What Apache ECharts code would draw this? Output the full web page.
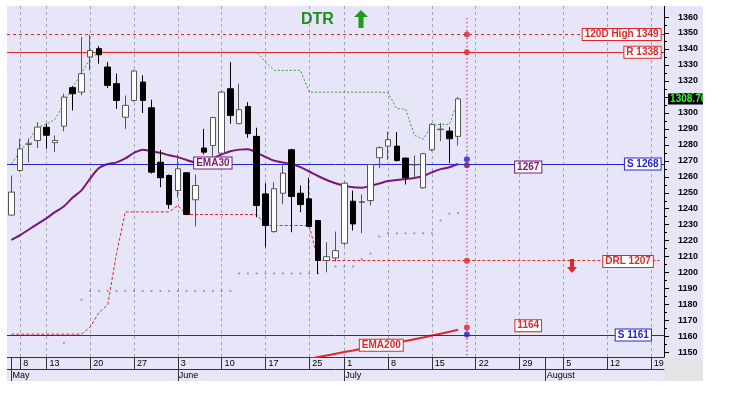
<!DOCTYPE html>
<html>
<head>
<meta charset="utf-8">
<title>DTR</title>
<script src="https://cdn.jsdelivr.net/npm/echarts@6.0.0/dist/echarts.min.js"></script>
<style>
    body { margin: 0; background: #fff; }
    #main { position: absolute; left: 7px; top: 6px; width: 696px; height: 375px; background: #e6e6f8; }
</style>
</head>
<body>
<div id="main"></div>
<script type="text/javascript">
    // trading days on the axis
    var mayDays = [7, 8, 9, 10, 13, 14, 15, 16, 17, 20, 21, 22, 23, 24, 27, 28, 29, 30, 31];
    var junDays = [3, 4, 5, 6, 7, 10, 11, 12, 13, 14, 17, 18, 19, 20, 21, 25, 26, 27, 28];
    var julDays = [1, 2, 3, 4, 5, 8, 9, 10, 11, 12, 15, 16, 17, 18, 19, 22, 23, 24, 25, 26, 29, 30, 31];
    var augDays = [1, 2, 5, 6, 7, 8, 9, 12, 13, 14, 15, 16, 19, 20];

    var weekStarts = ['May 8', 'May 13', 'May 20', 'May 27', 'Jun 3', 'Jun 10', 'Jun 17', 'Jun 25',
        'Jul 1', 'Jul 8', 'Jul 15', 'Jul 22', 'Jul 29', 'Aug 5', 'Aug 12', 'Aug 19'];
    var monthStarts = ['May 7', 'Jun 3', 'Jul 1', 'Aug 1'];
    var monthLabels = ['May', 'June', 'July', 'August'];

    var yTicks = [1150, 1160, 1170, 1180, 1190, 1200, 1210, 1220, 1230, 1240, 1250,
        1260, 1270, 1280, 1290, 1300, 1310, 1320, 1330, 1340, 1350, 1360];
    var yMinor = [1155, 1165, 1175, 1185, 1195, 1205, 1215, 1225, 1235, 1245, 1255,
        1265, 1275, 1285, 1295, 1305, 1315, 1325, 1335, 1345, 1355];

    // [open, close, low, high]
    var candles = [
        [1236, 1250.4, 1235.8, 1260.8], [1264, 1277.5, 1263, 1283.8], [1280.2, 1281, 1269, 1284],
        [1282.7, 1291.1, 1278, 1294.2], [1291, 1286, 1277.5, 1293.2], [1281.3, 1282.7, 1275.4, 1285.9],
        [1291.7, 1309.9, 1288.4, 1312], [1315.8, 1312, 1301.5, 1316.8], [1313, 1324.5, 1311, 1347.5],
        [1335, 1339, 1326.6, 1349], [1340.2, 1336.4, 1330.8, 1341.8], [1328.7, 1317.2, 1315.5, 1331.8],
        [1318.3, 1307.8, 1302.6, 1324.5], [1297.3, 1304.7, 1290, 1310.9], [1307.8, 1326.2, 1307, 1327],
        [1319.3, 1307.8, 1299.9, 1323.5], [1303.2, 1262.9, 1262, 1308.2], [1269.1, 1259.4, 1253.5, 1276.9],
        [1260.8, 1242.6, 1240, 1261.5], [1251.4, 1265, 1247, 1274], [1262.5, 1236.4, 1236, 1263],
        [1245.6, 1254.5, 1228.9, 1261.4], [1278, 1275.4, 1274, 1290], [1279.6, 1297.1, 1272.3, 1297.5],
        [1274.8, 1313, 1274, 1314], [1315.1, 1298.4, 1293.2, 1331.8], [1293.2, 1302, 1293, 1318.3],
        [1304, 1287, 1284.4, 1306.7], [1285.3, 1242, 1234.7, 1290.7], [1249.3, 1229.5, 1215.9, 1256],
        [1225.7, 1252.5, 1225, 1256.6], [1249.7, 1262.3, 1243, 1267.1], [1276.9, 1247.7, 1225.3, 1277.5],
        [1249.7, 1242.6, 1237.8, 1254.5], [1246.2, 1228.9, 1228.5, 1259.4], [1232.6, 1207.6, 1199.2, 1233],
        [1207.6, 1210, 1200.2, 1219], [1209.2, 1213.8, 1207.1, 1225.7], [1218.4, 1256, 1217, 1257],
        [1244.7, 1230.5, 1226.4, 1251.4], [1244, 1244.4, 1224.7, 1248.9], [1245.1, 1267.7, 1242, 1268],
        [1271.9, 1278.2, 1265.6, 1279], [1279.2, 1283.2, 1270.7, 1288.4], [1279.2, 1270.2, 1269.5, 1288],
        [1271.7, 1259.4, 1255.2, 1272], [1267.4, 1267.7, 1258.7, 1273.3], [1253.1, 1274.4, 1252.5, 1275],
        [1276.9, 1292.8, 1276, 1293.5], [1289.5, 1289.8, 1282.3, 1293.6], [1288.6, 1283.8, 1268.5, 1291.1],
        [1285.3, 1308.76, 1279.6, 1310]
    ];

    var ema30 = [1220.5, 1223.5, 1227, 1230.5, 1234, 1238, 1241.5, 1247, 1251.5, 1259,
        1265.5, 1268, 1269, 1271.5, 1275, 1277, 1276, 1275, 1273.5, 1272.3,
        1270.5, 1269.1, 1269.5, 1271.5, 1274, 1276, 1277, 1277.3, 1275, 1272.5,
        1270, 1269, 1268, 1266, 1263.3, 1260.5, 1258, 1256, 1254.5, 1253.4,
        1253.2, 1254.3, 1255.8, 1257.3, 1258, 1258.6, 1259.3, 1260.5, 1262.8, 1264.8,
        1266, 1268];

    var ema200 = [null, null, null, null, null, null, null, null, null, null,
        null, null, null, null, null, null, null, null, null, null,
        null, null, null, null, null, null, null, null, null, null,
        null, null, null, null, 1146, 1147.2, 1148.2, 1149.2, 1150.3, 1151.3,
        1152.4, 1153.3, 1154.2, 1155.1, 1156.1, 1157.2, 1158.3, 1159.4, 1160.6, 1161.8,
        1163, 1164.3];

    // green trailing line
    var upperStop = [1268, 1276, 1283, 1291, 1293, 1296, 1306, 1316, 1325, 1334,
        1338, 1338, 1338, 1338, 1338, 1338, 1338, 1338, 1338, 1338,
        1338, 1338, 1338, 1338, 1338, 1338, 1338, 1338, 1338, 1332,
        1326.6, 1326.6, 1326.6, 1326.6, 1313, 1313, 1313, 1313, 1313, 1313,
        1313, 1313, 1313, 1312.5, 1302.6, 1302.4, 1286, 1283.5, 1292.2, 1292.8,
        1292.8, 1308];

    // red dashed DRL line
    var lowerStop = [1161.5, 1161.5, 1161.5, 1161.5, 1161.5, 1161.5, 1161.5, 1161.5, 1161.5, 1166,
        1175, 1180, 1212, 1238, 1238, 1238, 1238, 1238, 1238, 1242,
        1236.4, 1236.4, 1236.4, 1236.4, 1236.4, 1236.4, 1236.4, 1236.4, 1236.4, 1229.5,
        1229.5, 1229.5, 1229.5, 1229.5, 1229.5, 1207.6, 1207.6, 1207.6, 1207.6, 1207.6,
        1207.6, 1207.6, 1207.6, 1207.6, 1207.6, 1207.6, 1207.6, 1207.6, 1207.6, 1207.6,
        1207.6, 1207.6, 1207.6, 1207.6, 1207.6, 1207.6, 1207.6, 1207.6, 1207.6, 1207.6,
        1207.6, 1207.6, 1207.6, 1207.6, 1207.6, 1207.6, 1207.6, 1207.6, 1207.6, 1207.6,
        1207.6, 1207.6, 1207.6, 1207.6, 1207.6];

    // blue dotted stop
    var dotStop = [null, null, null, null, null, null, 1156, null, 1183, 1188.5,
        1188.5, 1188.5, 1188.5, 1188.5, 1188.5, 1188.5, 1188.5, 1188.5, 1188.5, 1188.5,
        1188.5, 1188.5, 1188.5, 1188.5, 1188.5, 1188.5, 1199.5, 1199.5, 1199.5, 1199.5,
        1199.5, 1199.5, 1199.5, 1199.5, 1199.5, 1199.5, null, 1203.8, 1203.8, 1203.8,
        1208.6, 1212, 1222.6, 1224.7, 1224.7, 1224.7, 1224.7, 1224.7, 1224.7, 1232.6,
        1236.8, 1237.4];

    var HIGH_120 = 1349, RESIST = 1338, SUPPORT_1 = 1268, SUPPORT_2 = 1161, DRL = 1207;
    var EMA30_NEXT = 1267, EMA200_NEXT = 1164, LAST_CLOSE = 1308.76;
    var nextDay = 'Jul 19';
    var nextRed = [1349, 1338, 1207.5, 1165.6];
    var nextBlue = [1271, 1161.3];
    var nextPurple = [1267.2];

    var categories = [];
    mayDays.forEach(function (d) { categories.push('May ' + d); });
    junDays.forEach(function (d) { categories.push('Jun ' + d); });
    julDays.forEach(function (d) { categories.push('Jul ' + d); });
    augDays.forEach(function (d) { categories.push('Aug ' + d); });
    var lastCat = categories[categories.length - 1];
    var prevCat = categories[categories.length - 2];

    var RED = '#e3262a', BLUE = '#2424d0', PURPLE = '#7c1479', GREEN = '#3c9a3c';
    var FONT = 'Liberation Sans';

    function isIn(list) {
        return function (i) { return list.indexOf(categories[i]) >= 0; };
    }

    function tag(cat, val, text, color, pos, dx) {
        return {
            coord: [cat, val],
            symbol: 'rect',
            symbolSize: 1,
            itemStyle: {color: 'rgba(0,0,0,0)'},
            label: {
                show: true, position: pos, distance: 0, offset: [dx, 0],
                formatter: text, color: color, backgroundColor: '#fff',
                borderColor: color, borderWidth: 1, padding: [1, 2, 0, 2],
                fontFamily: FONT, fontSize: 10, fontWeight: 'bold', lineHeight: 10
            }
        };
    }

    function dash(v) { return v == null ? '-' : v; }

    var dots = [];
    nextRed.forEach(function (v) { dots.push({value: [nextDay, v], itemStyle: {color: RED}}); });
    nextBlue.forEach(function (v) { dots.push({value: [nextDay, v], itemStyle: {color: BLUE}}); });
    nextPurple.forEach(function (v) { dots.push({value: [nextDay, v], itemStyle: {color: PURPLE}}); });

    var myChart = echarts.init(document.getElementById('main'));

    myChart.setOption({
        animation: false,
        backgroundColor: '#e6e6f8',
        title: {
            text: 'DTR', left: 289, top: 1,
            textStyle: {color: '#1e8c1e', fontSize: 16, fontWeight: 'bold', fontFamily: FONT}
        },
        graphic: [
            {
                type: 'polygon',
                shape: {points: [[354, 4], [361, 11], [356.5, 11], [356.5, 22], [351.5, 22], [351.5, 11], [347, 11]]},
                style: {fill: '#1e9a1e'}
            },
            {type: 'rect', shape: {x: 658, y: 352, width: 38, height: 23}, style: {fill: '#e4e4e6'}}
        ],
        grid: {left: 0, right: 39, top: 0, bottom: 24, outerBoundsMode: 'none'},
        xAxis: [{
            type: 'category',
            data: categories,
            boundaryGap: true,
            axisLine: {show: true, lineStyle: {color: '#333', width: 1}},
            axisTick: {
                show: true,
                interval: isIn(weekStarts.concat(['May 7', 'Aug 1'])),
                alignWithLabel: true, length: 12, lineStyle: {color: '#333', width: 1}
            },
            axisLabel: {
                interval: isIn(weekStarts),
                formatter: function (v) { return v.split(' ')[1]; },
                align: 'left', padding: [0, 0, 0, 3], margin: 2,
                fontFamily: FONT, fontSize: 9, color: '#000'
            },
            splitLine: {
                show: true, interval: isIn(weekStarts), alignWithLabel: true,
                lineStyle: {color: '#a4a4b4', type: [3, 3], width: 1}
            }
        }, {
            type: 'category',
            data: categories,
            boundaryGap: true,
            position: 'bottom',
            offset: 12,
            axisLine: {show: true, lineStyle: {color: '#333', width: 1}},
            axisTick: {
                show: true, interval: isIn(monthStarts), alignWithLabel: true,
                length: 12, lineStyle: {color: '#333', width: 1}
            },
            axisLabel: {
                interval: isIn(monthStarts),
                formatter: function (v) { return monthLabels[monthStarts.indexOf(v)] || ''; },
                align: 'left', padding: [0, 0, 0, 1], margin: 2,
                fontFamily: FONT, fontSize: 9, color: '#000'
            },
            splitLine: {show: false}
        }],
        yAxis: [{
            type: 'value',
            position: 'right',
            min: 1147.2,
            max: 1366.9,
            axisLine: {show: true, lineStyle: {color: '#000'}},
            axisTick: {show: true, customValues: yTicks, length: 5, lineStyle: {color: '#000'}},
            axisLabel: {
                customValues: yTicks, margin: 14,
                formatter: function (v) { return String(v); },
                fontFamily: FONT, fontSize: 9, fontWeight: 'bold', color: '#000'
            },
            splitLine: {show: false}
        }, {
            type: 'value',
            position: 'right',
            min: 1147.2,
            max: 1366.9,
            axisLine: {show: false},
            axisTick: {show: true, customValues: yMinor, length: 3, lineStyle: {color: '#000'}},
            axisLabel: {show: false},
            splitLine: {show: false}
        }],
        series: [{
            type: 'line',
            data: upperStop,
            symbol: 'none',
            lineStyle: {color: GREEN, width: 1, type: [2, 2]},
            z: 2
        }, {
            type: 'line',
            data: lowerStop,
            symbol: 'none',
            lineStyle: {color: RED, width: 1, type: [3, 2]},
            z: 2,
            markPoint: {
                data: [{
                    coord: ['Aug 6', 1204.2],
                    symbol: 'path://M3,0L7,0L7,8L10,8L5,14L0,8L3,8Z',
                    symbolSize: [10, 14],
                    itemStyle: {color: RED},
                    label: {show: false}
                }]
            }
        }, {
            type: 'scatter',
            data: dotStop.map(dash),
            symbolSize: 2,
            itemStyle: {color: '#6e6ed8'},
            z: 2
        }, {
            type: 'line',
            data: [],
            z: 3,
            markLine: {
                silent: true,
                symbol: 'none',
                label: {show: false},
                data: [
                    {yAxis: HIGH_120, lineStyle: {color: RED, type: [3, 3], width: 1}},
                    {yAxis: RESIST, lineStyle: {color: RED, type: 'solid', width: 1}},
                    {yAxis: SUPPORT_1, lineStyle: {color: BLUE, type: 'solid', width: 1}},
                    {yAxis: SUPPORT_2, lineStyle: {color: BLUE, type: 'solid', width: 1}}
                ]
            }
        }, {
            type: 'line',
            data: ema30,
            symbol: 'none',
            smooth: 0.3,
            lineStyle: {color: PURPLE, width: 2},
            z: 4
        }, {
            type: 'line',
            data: ema200.map(dash),
            symbol: 'none',
            lineStyle: {color: RED, width: 2},
            z: 4
        }, {
            type: 'candlestick',
            data: candles,
            barWidth: 6,
            itemStyle: {color: '#fff', color0: '#000', borderColor: '#555', borderColor0: '#000', borderWidth: 1},
            z: 5,
            markPoint: {
                data: [{
                    coord: [lastCat, LAST_CLOSE],
                    symbol: 'rect', symbolSize: 1, itemStyle: {color: 'rgba(0,0,0,0)'},
                    label: {
                        show: true, position: 'right', distance: 8,
                        formatter: String(LAST_CLOSE), color: '#2bff2b', backgroundColor: '#000',
                        padding: [1, 2, 0, 2], fontFamily: FONT, fontSize: 10, fontWeight: 'bold', lineHeight: 10
                    }
                }]
            }
        }, {
            type: 'line',
            data: [[nextDay, 1359.2], [nextDay, 1147.2]],
            symbol: 'none',
            lineStyle: {color: '#a02aa0', width: 1.5, type: [1, 3]},
            z: 3
        }, {
            type: 'scatter',
            data: dots,
            symbolSize: 6,
            z: 6
        }, {
            type: 'line',
            data: [],
            z: 7,
            markPoint: {
                data: [
                    tag(lastCat, HIGH_120, '120D High ' + HIGH_120, RED, 'left', 1.5),
                    tag(lastCat, RESIST, 'R ' + RESIST, RED, 'left', 1.5),
                    tag(lastCat, SUPPORT_1, 'S ' + SUPPORT_1, BLUE, 'left', 1.5),
                    tag(prevCat, DRL, 'DRL ' + DRL, RED, 'left', 2.5),
                    tag(prevCat, SUPPORT_2, 'S ' + SUPPORT_2, BLUE, 'left', 0.5),
                    tag('Jul 30', 1266.1, String(EMA30_NEXT), PURPLE, 'inside', 0),
                    tag('Jul 30', 1166.8, String(EMA200_NEXT), RED, 'inside', 0),
                    tag('Jun 7', 1268.6, 'EMA30', PURPLE, 'inside', 0),
                    tag('Jul 5', 1154.6, 'EMA200', RED, 'inside', 2)
                ]
            }
        }]
    });
</script>
</body>
</html>
